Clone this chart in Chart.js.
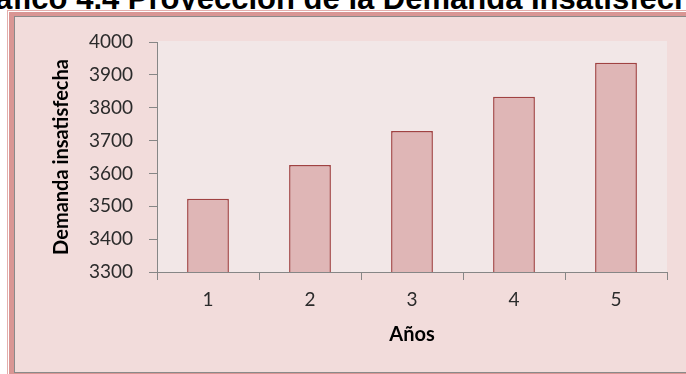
<!DOCTYPE html>
<html>
<head>
<meta charset="utf-8">
<script src="https://cdn.jsdelivr.net/npm/chart.js@4/dist/chart.umd.min.js"></script>
<style>
  html, body { margin: 0; padding: 0; background: #fff; width: 686px; height: 374px; overflow: hidden; }
  #titulo { position: absolute; left: -41px; top: -19px; white-space: nowrap; line-height: 30px;
            font: bold 31px "Liberation Sans", Arial, sans-serif; color: #000; }
  #borde1 { position: absolute; left: 7px; top: 10px; width: 800px; height: 500px;
            border: 1px solid #e3aeac; background: #fff; }
  #borde2 { position: absolute; left: 9px; top: 12px; width: 800px; height: 500px; background: #d99694; }
  #fondo  { position: absolute; left: 14px; top: 16px; width: 800px; height: 355px;
            border: 1px solid #8a8a8a; background: #f2dcdb; }
  #grafico { position: absolute; left: 0; top: 0; }
</style>
</head>
<body>
<div id="titulo">Gráfico 4.4 Proyección de la Demanda Insatisfecha</div>
<div id="borde1"></div>
<div id="borde2"></div>
<div id="fondo"></div>
<canvas id="grafico" width="686" height="374"></canvas>
<script>
// datos
var anios = ["1", "2", "3", "4", "5"];
var demanda = [3523, 3626, 3729, 3833, 3937];
var ejeMin = 3300;
var ejeMax = 4000;
var paso = 100;

var fondoPlot = {
  id: 'fondoPlot',
  beforeDraw: function(chart) {
    var a = chart.chartArea, c = chart.ctx;
    c.save();
    c.fillStyle = '#f2e7e7';
    c.fillRect(a.left, a.top - 1, a.right - a.left, a.bottom - a.top + 1);
    c.restore();
  }
};

var gris = '#868686';
var fuente = 'Lato, "Open Sans", sans-serif';

var ctx = document.getElementById("grafico");
var chartInstance = new Chart(ctx, {
  type: 'bar',
  data: {
    labels: anios,
    datasets: [
      {
        label: "Demanda insatisfecha",
        data: demanda,
        backgroundColor: "#dfb6b6",
        borderColor: "#a04242",
        borderWidth: 1.5,
        categoryPercentage: 1,
        barPercentage: 0.41
      }
    ]
  },
  options: {
    responsive: false,
    animation: false,
    devicePixelRatio: 1,
    layout: { padding: { left: 0, top: 42, right: 19, bottom: 0 } },
    plugins: {
      legend: { display: false },
      tooltip: { enabled: false }
    },
    scales: {
      x: {
        grid: { offset: true, drawOnChartArea: false, drawTicks: true, tickLength: 8, color: gris },
        border: { color: gris, width: 1 },
        ticks: { color: '#2b2b2b', padding: 8, font: { family: fuente, size: 19 } },
        title: {
          display: true, text: 'Años', color: '#000',
          font: { family: fuente, size: 20, weight: 'bold' },
          padding: { top: 0, bottom: 27 }
        },
        afterFit: function(s) { s.height = 102; }
      },
      y: {
        min: ejeMin,
        max: ejeMax,
        grid: { drawOnChartArea: false, drawTicks: true, tickLength: 8, color: gris },
        border: { color: gris, width: 1 },
        ticks: {
          stepSize: paso, color: '#2b2b2b', padding: 16,
          font: { family: fuente, size: 19 },
          callback: function(v) { return String(v); }
        },
        title: {
          display: true, text: 'Demanda insatisfecha', color: '#000',
          font: { family: fuente, size: 20, weight: 'bold' },
          padding: { top: 50, bottom: 0 }
        },
        afterFit: function(s) { s.width = 157; }
      }
    }
  },
  plugins: [fondoPlot]
});
</script>
</body>
</html>
